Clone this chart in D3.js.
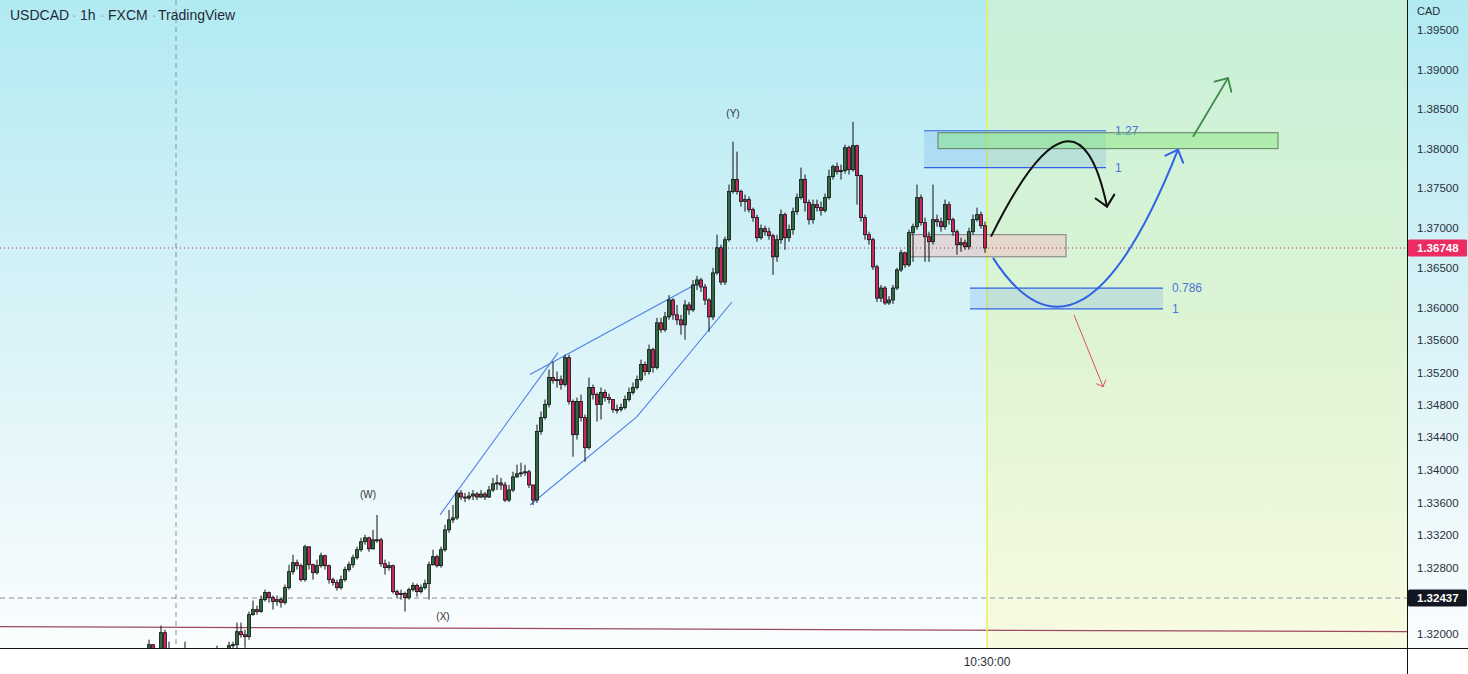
<!DOCTYPE html>
<html><head><meta charset="utf-8">
<script src="https://cdn.jsdelivr.net/npm/d3@7"></script>
<style>html,body{margin:0;padding:0;background:#fff;overflow:hidden}</style>
</head><body><svg id="chart" width="1468" height="674"></svg>
<script>
// ---------- DATA ----------
const symbolParts = ["USDCAD", "1h", "FXCM", "TradingView"];
const currency = "CAD";
const firstOpen = 1.31812;
const closes = [
1.31873,1.31691,1.31630,1.32018,1.31691,1.31667,1.31630,1.31594,1.31642,1.31667,
1.31630,1.31594,1.31570,1.31606,1.31630,1.31594,1.31642,1.31691,1.31715,1.31751,
1.31861,1.31873,1.32030,1.31994,1.31970,1.32236,1.32297,1.32273,1.32418,1.32503,
1.32442,1.32394,1.32418,1.32382,1.32563,1.32757,1.32866,1.32830,1.32660,1.33060,
1.32842,1.32745,1.32830,1.32951,1.32830,1.32660,1.32624,1.32563,1.32660,1.32782,
1.32842,1.32927,1.33024,1.33121,1.33169,1.33036,1.33145,1.33145,1.32854,1.32806,
1.32830,1.32515,1.32479,1.32491,1.32442,1.32539,1.32588,1.32515,1.32563,1.32612,
1.32842,1.32939,1.32830,1.33024,1.33266,1.33388,1.33412,1.33716,1.33667,1.33655,
1.33679,1.33704,1.33667,1.33704,1.33667,1.33753,1.33828,1.33840,1.33815,1.33630,
1.33753,1.33914,1.33951,1.33963,1.33976,1.33815,1.33630,1.34470,1.34642,1.34803,
1.35136,1.35099,1.35111,1.35050,1.35383,1.34840,1.34432,1.34840,1.34642,1.34272,
1.35013,1.34926,1.34803,1.34951,1.34889,1.34865,1.34741,1.34741,1.34767,1.34865,
1.34951,1.35013,1.35111,1.35297,1.35210,1.35482,1.35260,1.35815,1.35729,1.35889,
1.36099,1.35914,1.35852,1.35790,1.36037,1.35976,1.36286,1.36349,1.36261,1.36099,
1.35889,1.36437,1.36751,1.36323,1.36852,1.37456,1.37607,1.37456,1.37330,1.37355,
1.37229,1.37129,1.36877,1.36990,1.36952,1.36902,1.36638,1.36852,1.37166,1.36877,
1.36978,1.37204,1.37380,1.37607,1.37317,1.37103,1.37292,1.37254,1.37217,1.37380,
1.37644,1.37770,1.37707,1.37720,1.38009,1.37732,1.38034,1.37657,1.37129,1.36915,
1.36852,1.36512,1.36122,1.36248,1.36062,1.36099,1.36248,1.36474,1.36688,1.36537,
1.36940,1.37015,1.37380,1.37066,1.36890,1.36827,1.37103,1.37078,1.37015,1.37292,
1.37103,1.36952,1.36789,1.36814,1.36764,1.36952,1.37103,1.37166,1.37028,1.36748];
const highs = [
1.31933,1.31788,1.31751,1.32103,1.32054,1.31909,1.31751,1.31715,1.31739,1.31909,
1.31739,1.31691,1.31667,1.31691,1.31715,1.31691,1.31739,1.31861,1.31812,1.31812,
1.31909,1.31909,1.32139,1.32139,1.32054,1.32273,1.32406,1.32345,1.32467,1.32539,
1.32515,1.32467,1.32467,1.32442,1.32600,1.32842,1.32963,1.32903,1.32854,1.33085,
1.33048,1.32854,1.32903,1.32988,1.32963,1.32842,1.32685,1.32660,1.32709,1.32818,
1.32879,1.32963,1.33060,1.33169,1.33206,1.33182,1.33266,1.33448,1.33169,1.32903,
1.32879,1.32842,1.32539,1.32539,1.32515,1.32563,1.32624,1.32612,1.32600,1.32660,
1.32879,1.33024,1.32963,1.33060,1.33327,1.33509,1.33569,1.33753,1.33753,1.33716,
1.33729,1.33753,1.33729,1.33753,1.33729,1.33803,1.33902,1.33939,1.33902,1.33852,
1.33815,1.33976,1.34062,1.34087,1.34062,1.34000,1.33815,1.34556,1.34716,1.34865,
1.35235,1.35334,1.35210,1.35161,1.35420,1.35420,1.34865,1.34889,1.34926,1.34679,
1.35136,1.35050,1.34951,1.35013,1.34988,1.34939,1.34865,1.34803,1.34815,1.34914,
1.35013,1.35074,1.35161,1.35358,1.35334,1.35544,1.35506,1.35877,1.35877,1.35951,
1.36160,1.36122,1.36037,1.35914,1.36099,1.36074,1.36349,1.36399,1.36374,1.36298,
1.36122,1.36500,1.36915,1.36789,1.36890,1.37544,1.38085,1.37959,1.37481,1.37418,
1.37393,1.37254,1.37166,1.37041,1.37028,1.37003,1.36927,1.36915,1.37229,1.37192,
1.37041,1.37254,1.37431,1.37758,1.37670,1.37355,1.37355,1.37355,1.37330,1.37431,
1.37732,1.37795,1.37821,1.37795,1.38047,1.38034,1.38336,1.38047,1.37670,1.37166,
1.36952,1.36877,1.36537,1.36286,1.36273,1.36147,1.36286,1.36500,1.36726,1.36701,
1.36978,1.37053,1.37544,1.37418,1.37129,1.36952,1.37544,1.37166,1.37129,1.37355,
1.37330,1.37129,1.36978,1.36877,1.36852,1.37003,1.37166,1.37254,1.37204,1.37078];
const lows = [
1.31751,1.31594,1.31545,1.31594,1.31630,1.31570,1.31545,1.31509,1.31570,1.31594,
1.31570,1.31509,1.31497,1.31533,1.31558,1.31521,1.31570,1.31618,1.31654,1.31691,
1.31739,1.31812,1.31812,1.31957,1.31836,1.31933,1.32224,1.32236,1.32260,1.32394,
1.32382,1.32297,1.32345,1.32321,1.32357,1.32539,1.32721,1.32782,1.32636,1.32636,
1.32782,1.32660,1.32721,1.32806,1.32782,1.32612,1.32588,1.32527,1.32539,1.32636,
1.32757,1.32806,1.32903,1.33000,1.33085,1.33000,1.33024,1.33109,1.32818,1.32721,
1.32770,1.32491,1.32442,1.32418,1.32273,1.32418,1.32515,1.32454,1.32491,1.32539,
1.32418,1.32830,1.32806,1.32806,1.33000,1.33230,1.33351,1.33388,1.33630,1.33606,
1.33630,1.33630,1.33630,1.33655,1.33630,1.33655,1.33729,1.33753,1.33753,1.33606,
1.33606,1.33729,1.33902,1.33914,1.33926,1.33778,1.33569,1.33594,1.34432,1.34618,
1.34767,1.35062,1.35013,1.34988,1.35025,1.34803,1.34161,1.34371,1.34593,1.34099,
1.34247,1.34865,1.34593,1.34618,1.34840,1.34815,1.34704,1.34692,1.34716,1.34741,
1.34840,1.34926,1.34988,1.35087,1.35161,1.35173,1.35198,1.35235,1.35692,1.35704,
1.35852,1.35852,1.35790,1.35667,1.35605,1.35914,1.35951,1.36223,1.36198,1.36037,
1.35704,1.35852,1.36412,1.36286,1.36286,1.36827,1.37431,1.37418,1.37267,1.37204,
1.37192,1.37078,1.36827,1.36852,1.36902,1.36852,1.36412,1.36575,1.36802,1.36726,
1.36827,1.36915,1.37166,1.37355,1.37204,1.37041,1.37053,1.37204,1.37154,1.37192,
1.37355,1.37607,1.37670,1.37607,1.37682,1.37670,1.37707,1.37292,1.37078,1.36852,
1.36789,1.36474,1.36074,1.36074,1.36037,1.36037,1.36050,1.36223,1.36449,1.36500,
1.36512,1.36575,1.36978,1.37028,1.36575,1.36575,1.36789,1.37015,1.36952,1.36978,
1.37041,1.36902,1.36663,1.36701,1.36726,1.36726,1.36915,1.37078,1.36990,1.36688];

const yTickValues = [1.395,1.39,1.385,1.38,1.375,1.37,1.365,1.36,1.356,1.352,1.348,1.344,1.34,1.336,1.332,1.328,1.32];
const lastPrice = 1.36748;
const markPrice = 1.32437;
const timeLabel = "10:30:00";
const nowIdx = 209.5;
const vDashIdx = 6.75;

const waveNames = ["(W)", "(X)", "(Y)"];
const waveIdx = [54.75, 73.5, 146];
const wavePrices = [1.33704, 1.32212, 1.38437];

const wedgeSteepIdx = [72.75, 102.25];
const wedgeSteepPrices = [1.33448, 1.35445];
const wedgeUpperIdx = [95.25, 137.75];
const wedgeUpperPrices = [1.35173, 1.36323];
const wedgeLowerIdx = [95.25, 122, 145.75];
const wedgeLowerPrices = [1.33569, 1.34655, 1.36074];

const trendIdx = [-37.25, 314.5];
const trendPrices = [1.32091, 1.32030];

const fibUpperLabels = ["1.27", "1"];
const fibUpperPrices = [1.38223, 1.37758];
const fibUpperIdx = [193.75, 239.25];
const fibLowerLabels = ["0.786", "1"];
const fibLowerPrices = [1.36248, 1.35988];
const fibLowerIdx = [205.25, 253.5];

const targetBoxIdx = [197.25, 282.25];
const targetBoxPrices = [1.38198, 1.37997];
const entryBoxIdx = [190, 229.25];
const entryBoxPrices = [1.36915, 1.36638];

const blackCurveIdx = [210.5, 232, 239.5];
const blackCurvePrices = [1.36890, 1.39091, 1.37267];
const blueCurveIdx = [211, 233, 257.25];
const blueCurvePrices = [1.36625, 1.34926, 1.37984];
const greenArrowIdx = [261, 269.75];
const greenArrowPrices = [1.38148, 1.38890];
const redArrowIdx = [231.25, 238.5];
const redArrowPrices = [1.35914, 1.35025];

// ---------- LAYOUT ----------
const W = 1468, H = 674, plotW = 1407, plotH = 648;
const svg = d3.select("#chart");
const x = d3.scaleLinear().domain([0, closes.length - 1]).range([149, 985]);
const y = d3.scaleLog().domain([1.31833, 1.39887]).range([plotH, 0]);

const defs = svg.append("defs");
function grad(id, stops) {
  const g = defs.append("linearGradient").attr("id", id).attr("x1", 0).attr("y1", 0).attr("x2", 0).attr("y2", 1);
  stops.forEach(s => g.append("stop").attr("offset", s[0]).attr("stop-color", s[1]));
}
grad("bgL", [[0, "#b2eaf2"], [0.5, "#d9f3f8"], [1, "#fbfdfe"]]);
grad("bgR", [[0, "#c8f0d9"], [0.5, "#dcf4d4"], [1, "#f8fbe1"]]);
grad("bgA", [[0, "#b2eaf2"], [0.5, "#d9f3f8"], [1, "#fbfdfe"]]);
defs.append("clipPath").attr("id", "clip").append("rect").attr("width", plotW).attr("height", plotH);

svg.append("rect").attr("width", W).attr("height", H).attr("fill", "#fff");
svg.append("rect").attr("width", x(nowIdx)).attr("height", plotH).attr("fill", "url(#bgL)");
svg.append("rect").attr("x", x(nowIdx)).attr("width", plotW - x(nowIdx)).attr("height", plotH).attr("fill", "url(#bgR)");
svg.append("rect").attr("x", plotW).attr("width", W - plotW).attr("height", plotH).attr("fill", "url(#bgA)");

const g = svg.append("g").attr("clip-path", "url(#clip)");

// reference lines
g.append("line").attr("x1", x(vDashIdx)).attr("x2", x(vDashIdx)).attr("y1", 0).attr("y2", plotH)
  .attr("stroke", "#8a8f98").attr("stroke-dasharray", "5,4").attr("stroke-width", 1);
g.append("line").attr("x1", 0).attr("x2", plotW).attr("y1", y(markPrice)).attr("y2", y(markPrice))
  .attr("stroke", "#8a8f98").attr("stroke-dasharray", "5,4").attr("stroke-width", 1);
g.append("line").attr("x1", x(trendIdx[0])).attr("x2", x(trendIdx[1])).attr("y1", y(trendPrices[0])).attr("y2", y(trendPrices[1]))
  .attr("stroke", "#9c4a5c").attr("stroke-width", 1.2);
g.append("line").attr("x1", x(nowIdx)).attr("x2", x(nowIdx)).attr("y1", 0).attr("y2", plotH)
  .attr("stroke", "#e4f25a").attr("stroke-width", 1.5);

// fib zones
function fib(idx, prices, labels) {
  g.append("rect").attr("x", x(idx[0])).attr("width", x(idx[1]) - x(idx[0]))
    .attr("y", y(prices[0])).attr("height", y(prices[1]) - y(prices[0]))
    .attr("fill", "rgba(41,120,240,0.14)");
  prices.forEach((p, k) => {
    g.append("line").attr("x1", x(idx[0])).attr("x2", x(idx[1])).attr("y1", y(p)).attr("y2", y(p))
      .attr("stroke", "#2f62e6").attr("stroke-width", 1.2);
    g.append("text").attr("x", x(idx[1]) + 9).attr("y", y(p)).attr("dy", "0.35em")
      .attr("font-family", "Liberation Sans, Arial, sans-serif").attr("font-size", 12)
      .attr("fill", "#4a77dc").text(labels[k]);
  });
}
fib(fibUpperIdx, fibUpperPrices, fibUpperLabels);
fib(fibLowerIdx, fibLowerPrices, fibLowerLabels);

// boxes
g.append("rect").attr("x", x(targetBoxIdx[0])).attr("width", x(targetBoxIdx[1]) - x(targetBoxIdx[0]))
  .attr("y", y(targetBoxPrices[0])).attr("height", y(targetBoxPrices[1]) - y(targetBoxPrices[0]))
  .attr("fill", "rgba(130,230,120,0.45)").attr("stroke", "#5e7d62").attr("stroke-width", 1);
g.append("rect").attr("x", x(entryBoxIdx[0])).attr("width", x(entryBoxIdx[1]) - x(entryBoxIdx[0]))
  .attr("y", y(entryBoxPrices[0])).attr("height", y(entryBoxPrices[1]) - y(entryBoxPrices[0]))
  .attr("fill", "rgba(240,190,190,0.5)").attr("stroke", "#7d7d7d").attr("stroke-width", 1);

// last price dotted line
g.append("line").attr("x1", 0).attr("x2", plotW).attr("y1", y(lastPrice)).attr("y2", y(lastPrice))
  .attr("stroke", "#b0304a").attr("stroke-dasharray", "1,3").attr("stroke-width", 1);

// wedge lines
const lineGen = d3.line().x(d => x(d[0])).y(d => y(d[1]));
[[wedgeSteepIdx, wedgeSteepPrices], [wedgeUpperIdx, wedgeUpperPrices], [wedgeLowerIdx, wedgeLowerPrices]].forEach(([ix, pr]) => {
  g.append("path").attr("d", lineGen(ix.map((v, k) => [v, pr[k]])))
    .attr("fill", "none").attr("stroke", "#4f7fe6").attr("stroke-width", 1.1);
});

// candles
const candles = closes.map((c, i) => {
  const o = i === 0 ? firstOpen : closes[i - 1];
  return { i, o, c, h: Math.max(highs[i], o, c), l: Math.min(lows[i], o, c) };
});
const cg = g.append("g");
cg.selectAll("line.wick").data(candles).enter().append("line")
  .attr("x1", d => x(d.i)).attr("x2", d => x(d.i))
  .attr("y1", d => y(d.h)).attr("y2", d => y(d.l))
  .attr("stroke", "#111").attr("stroke-width", 1);
cg.selectAll("rect.body").data(candles).enter().append("rect")
  .attr("x", d => x(d.i) - 1.5).attr("width", 3)
  .attr("y", d => y(Math.max(d.o, d.c)))
  .attr("height", d => Math.max(1, Math.abs(y(d.o) - y(d.c))))
  .attr("fill", d => d.c >= d.o ? "#2f6b3e" : "#c8275e")
  .attr("stroke", "#111").attr("stroke-width", 0.8);

// wave labels
waveNames.forEach((t, k) => {
  g.append("text").attr("x", x(waveIdx[k])).attr("y", y(wavePrices[k])).attr("dy", "0.35em")
    .attr("text-anchor", "middle").attr("font-family", "Liberation Sans, Arial, sans-serif")
    .attr("font-size", 10).attr("fill", "#333").text(t);
});

// arrows
function head(tx, ty, dx, dy, len, ang, color, w) {
  const a = Math.atan2(-dy, -dx);
  [ang, -ang].forEach(s => {
    g.append("line").attr("x1", tx).attr("y1", ty)
      .attr("x2", tx + len * Math.cos(a + s)).attr("y2", ty + len * Math.sin(a + s))
      .attr("stroke", color).attr("stroke-width", w).attr("stroke-linecap", "round");
  });
}
function curve(ix, pr, color, w) {
  const p = ix.map((v, k) => [x(v), y(pr[k])]);
  g.append("path").attr("d", `M${p[0][0]},${p[0][1]} Q${p[1][0]},${p[1][1]} ${p[2][0]},${p[2][1]}`)
    .attr("fill", "none").attr("stroke", color).attr("stroke-width", w);
  head(p[2][0], p[2][1], p[2][0] - p[1][0], p[2][1] - p[1][1], 14, 0.75, color, w);
}
curve(blackCurveIdx, blackCurvePrices, "#111", 2);
curve(blueCurveIdx, blueCurvePrices, "#2f62e6", 2);
function arrow(ix, pr, color, w, len) {
  const x1 = x(ix[0]), y1 = y(pr[0]), x2 = x(ix[1]), y2 = y(pr[1]);
  g.append("line").attr("x1", x1).attr("y1", y1).attr("x2", x2).attr("y2", y2)
    .attr("stroke", color).attr("stroke-width", w);
  head(x2, y2, x2 - x1, y2 - y1, len, 0.78, color, w);
}
arrow(greenArrowIdx, greenArrowPrices, "#3d8a45", 1.8, 14);
arrow(redArrowIdx, redArrowPrices, "#e0505a", 1, 7);

// title
const titleG = svg.append("g").attr("font-family", "Liberation Sans, Arial, sans-serif").attr("font-size", 14);
const titleX = [10, 80, 108, 158];
const dotX = [72, 100, 152];
symbolParts.forEach((t, k) => titleG.append("text").attr("x", titleX[k]).attr("y", 20).attr("fill", "#1f2a35").text(t));
dotX.forEach(dx => titleG.append("text").attr("x", dx).attr("y", 20).attr("fill", "#9aa8b0").text("·"));

// axes frame
svg.append("rect").attr("x", 0).attr("y", plotH).attr("width", W).attr("height", H - plotH).attr("fill", "#fff");
svg.append("line").attr("x1", 0).attr("x2", W).attr("y1", plotH + 0.5).attr("y2", plotH + 0.5).attr("stroke", "#111");
svg.append("line").attr("x1", plotW + 0.5).attr("x2", plotW + 0.5).attr("y1", 0).attr("y2", H).attr("stroke", "#111");

const axisG = svg.append("g").attr("transform", `translate(${plotW},0)`);
const yAxis = d3.axisRight(y).tickValues(yTickValues).tickFormat(d3.format(".5f")).tickSize(0).tickPadding(10);
axisG.call(yAxis);
axisG.select(".domain").remove();
axisG.selectAll("text").attr("font-family", "Liberation Sans, Arial, sans-serif").attr("font-size", 11.5).attr("fill", "#2a2e39");
svg.append("text").attr("x", plotW + 10).attr("y", 11).attr("dy", "0.35em")
  .attr("font-family", "Liberation Sans, Arial, sans-serif").attr("font-size", 11).attr("fill", "#2a2e39").text(currency);

function priceTag(p, bg) {
  svg.append("rect").attr("x", plotW + 1).attr("y", y(p) - 8.5).attr("width", W - plotW - 2).attr("height", 17)
    .attr("rx", 1.5).attr("fill", bg);
  svg.append("text").attr("x", plotW + 10).attr("y", y(p)).attr("dy", "0.36em")
    .attr("font-family", "Liberation Sans, Arial, sans-serif").attr("font-size", 11.5).attr("font-weight", "bold")
    .attr("fill", "#fff").text(d3.format(".5f")(p));
}
priceTag(lastPrice, "#ec2b62");
priceTag(markPrice, "#131722");

// time label
svg.append("text").attr("x", x(nowIdx)).attr("y", 662).attr("dy", "0.35em").attr("text-anchor", "middle")
  .attr("font-family", "Liberation Sans, Arial, sans-serif").attr("font-size", 12).attr("fill", "#2a2e39").text(timeLabel);
</script>
</body></html>
